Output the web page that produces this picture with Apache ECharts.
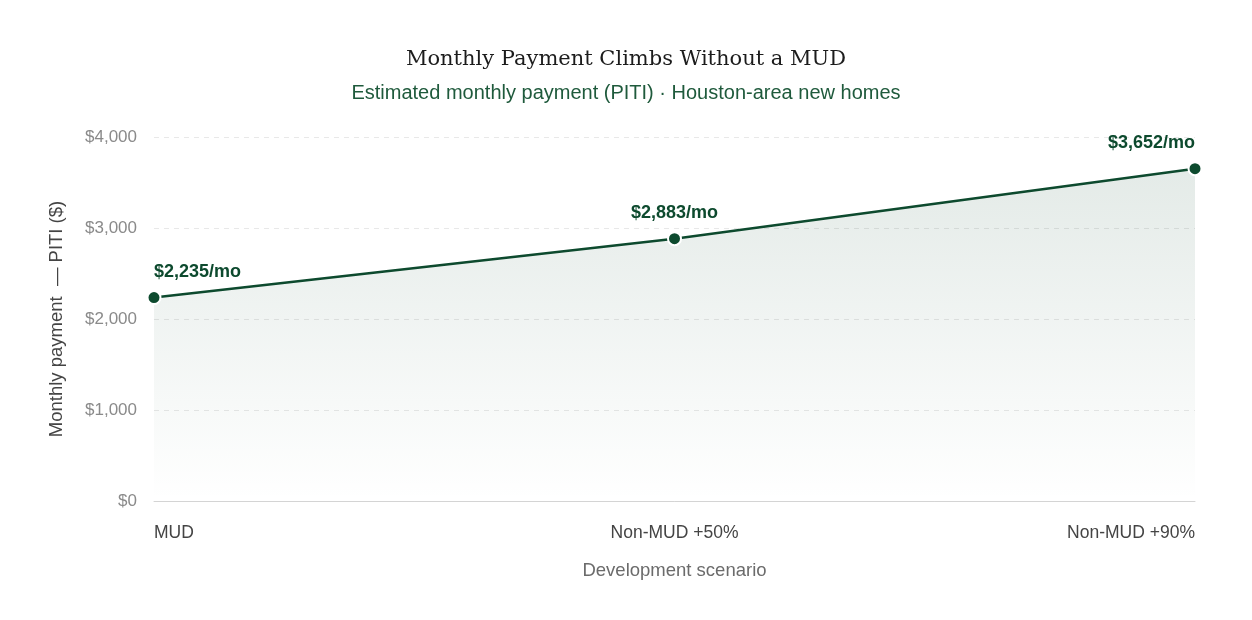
<!DOCTYPE html>
<html>
<head>
<meta charset="utf-8">
<script src="https://cdn.jsdelivr.net/npm/echarts@6/dist/echarts.min.js"></script>
<style>
  html, body { margin: 0; padding: 0; background: #fff; }
  #chart { width: 1252px; height: 620px; }
</style>
</head>
<body>
<div id="chart"></div>
<script>
var categories = ["MUD", "Non-MUD +50%", "Non-MUD +90%"];
var payments = [2235, 2883, 3652];
var yTicks = [0, 1000, 2000, 3000, 4000];

var green = "#0d4a2e";
var sans = "Liberation Sans";
var labelAlign = ["left", "center", "right"];

var chart = echarts.init(document.getElementById("chart"));

var seriesData = payments.map(function (v, i) {
  return {
    value: v,
    label: { align: labelAlign[i] }
  };
});

chart.setOption({
  backgroundColor: "#ffffff",
  title: {
    text: "Monthly Payment Climbs Without a MUD",
    subtext: "Estimated monthly payment (PITI) · Houston-area new homes",
    left: "center",
    top: 44,
    itemGap: 13,
    textStyle: {
      fontFamily: "DejaVu Serif",
      fontWeight: "normal",
      fontSize: 21,
      color: "#1c1c1c"
    },
    subtextStyle: {
      fontFamily: sans,
      fontSize: 20,
      color: "#1f5a3c"
    }
  },
  grid: {
    left: 154,
    right: 57,
    top: 137,
    bottom: 119,
    containLabel: false
  },
  xAxis: {
    type: "category",
    boundaryGap: false,
    data: categories,
    name: "Development scenario",
    nameLocation: "middle",
    nameGap: 60,
    nameTextStyle: {
      fontFamily: sans,
      fontSize: 18.5,
      color: "#6b6b6b"
    },
    axisLine: { lineStyle: { color: "#d4d4d4" } },
    axisTick: { show: false },
    axisLabel: {
      margin: 23,
      fontFamily: sans,
      fontSize: 17.5,
      color: "#444",
      alignMinLabel: "left",
      alignMaxLabel: "right"
    },
    splitLine: { show: false }
  },
  yAxis: {
    type: "value",
    min: yTicks[0],
    max: yTicks[yTicks.length - 1],
    interval: 1000,
    name: "Monthly payment  — PITI ($)",
    nameLocation: "middle",
    nameGap: 88,
    nameTextStyle: {
      fontFamily: sans,
      fontSize: 18.5,
      color: "#444"
    },
    axisLine: { show: false },
    axisTick: { show: false },
    axisLabel: {
      margin: 17,
      fontFamily: sans,
      fontSize: 17,
      color: "#8a8a8a",
      formatter: function (v) { return "$" + v.toLocaleString("en-US"); }
    },
    splitLine: {
      lineStyle: { color: "#e8e8e8", type: [5, 5] }
    }
  },
  series: [
    {
      type: "line",
      data: seriesData,
      symbol: "circle",
      symbolSize: 13,
      lineStyle: { color: green, width: 2.5 },
      itemStyle: { color: green, borderColor: "#fff", borderWidth: 2 },
      areaStyle: {
        color: new echarts.graphic.LinearGradient(0, 0, 0, 1, [
          { offset: 0, color: "rgba(13, 74, 46, 0.16)" },
          { offset: 1, color: "rgba(13, 74, 46, 0.0)" }
        ])
      },
      label: {
        show: true,
        position: "top",
        distance: 9,
        fontFamily: sans,
        fontWeight: "bold",
        fontSize: 18,
        color: green,
        formatter: function (p) { return "$" + p.value.toLocaleString("en-US") + "/mo"; }
      }
    }
  ]
});
</script>
</body>
</html>
